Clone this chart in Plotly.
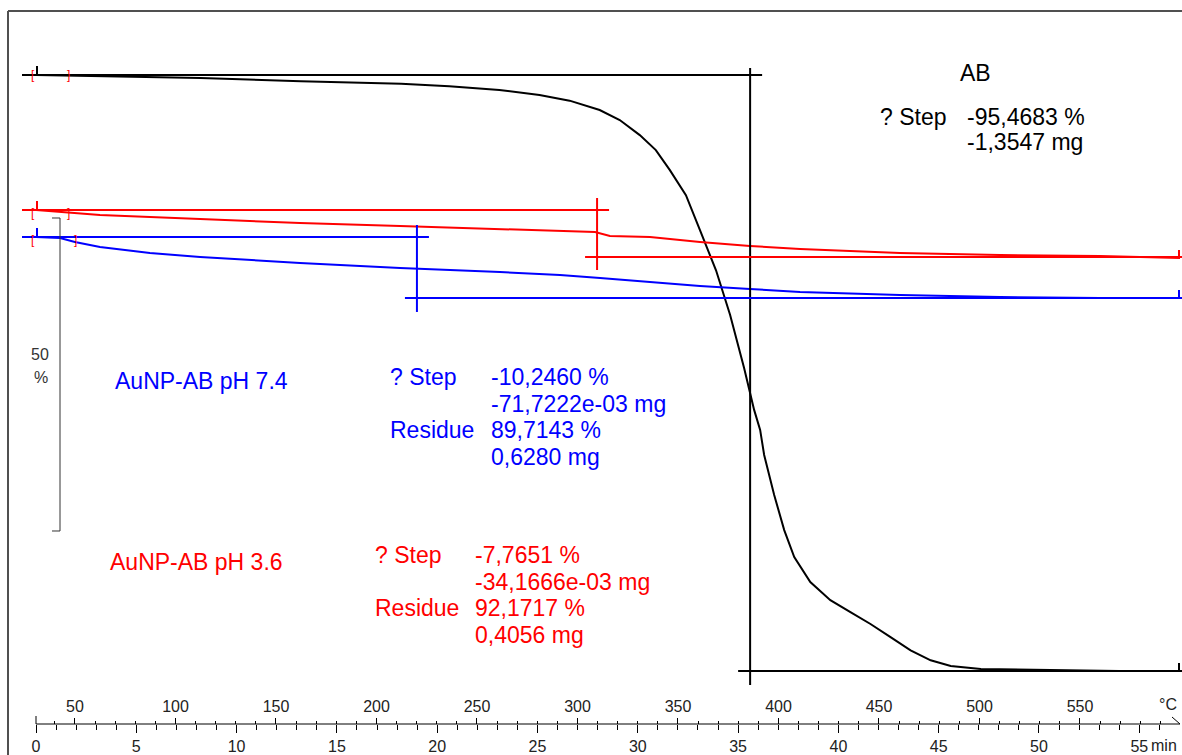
import plotly.graph_objects as go

W, H = 1182, 755

# ---------------- data ----------------
# AB (black)
ab_time = [0, 3.2, 8.2, 13.2, 18.2, 20.6, 23.1, 25.1, 26.6, 28.1, 29.1, 30.1, 30.9, 31.6,
           32.4, 33.1, 33.9, 34.6, 35.3, 35.8, 36.1, 36.3, 36.8, 37.3, 37.8, 38.6, 39.6,
           40.6, 41.6, 42.6, 43.6, 44.6, 45.6, 47.1, 50.5, 54.0, 57.0]
ab_mass = [100, 99.8, 99.5, 99.0, 98.6, 98.2, 97.6, 96.8, 95.9, 94.4, 92.8, 90.4, 88.0, 84.8,
           80.8, 75.2, 68.8, 61.7, 53.2, 46.5, 43.3, 39.3, 32.9, 27.3, 23.0, 19.0, 16.1,
           14.2, 12.3, 10.2, 8.1, 6.5, 5.6, 5.1, 4.95, 4.8, 4.8]

# AuNP-AB pH 3.6 (red)
red_time = [0, 1.2, 3.19, 8.18, 13.16, 18.15, 23.13, 27.87, 28.61, 30.61, 33.1, 35.59,
            38.09, 40.58, 43.07, 48.06, 53.04, 57.03]
red_mass = [100, 99.68, 99.20, 98.56, 97.92, 97.44, 96.96, 96.49, 95.85, 95.69, 94.89, 94.25,
            93.77, 93.45, 93.13, 92.81, 92.65, 92.33]

# AuNP-AB pH 7.4 (blue)
blue_time = [0, 1.2, 1.94, 3.19, 5.68, 8.18, 13.16, 18.15, 23.13, 26.12, 28.12, 30.61, 33.1,
             35.59, 38.09, 43.07, 48.06, 53.04, 57.03]
blue_mass = [100, 99.84, 99.2, 98.4, 97.44, 96.81, 95.85, 95.05, 94.41, 93.93, 93.45, 92.81,
             92.17, 91.69, 91.21, 90.73, 90.42, 90.26, 90.26]

# step evaluations: time of step (min), upper level, lower level (%)
step_time = {"ab": 35.6, "red": 27.97, "blue": 18.99}
step_top = {"ab": 100, "red": 100, "blue": 100}
step_bottom = {"ab": 4.79, "red": 92.49, "blue": 90.26}

# axis tick labels
time_ticks = [0, 5, 10, 15, 20, 25, 30, 35, 40, 45, 50, 55]
temp_ticks = [50, 100, 150, 200, 250, 300, 350, 400, 450, 500, 550]

# result texts
ab_text = {"name": "AB", "step_pct": "-95,4683 %", "step_mg": "-1,3547 mg"}
blue_text = {"name": "AuNP-AB pH 7.4", "step_pct": "-10,2460 %", "step_mg": "-71,7222e-03 mg",
             "res_pct": "89,7143 %", "res_mg": "0,6280 mg"}
red_text = {"name": "AuNP-AB pH 3.6", "step_pct": "-7,7651 %", "step_mg": "-34,1666e-03 mg",
            "res_pct": "92,1717 %", "res_mg": "0,4056 mg"}

# ---------------- layout / style constants ----------------
XR = [-1.795, 57.13]          # minutes across full width
YR = [-8.63, 111.98]          # percent across full height
TR = [12.69, 600.75]          # deg C across full width
PXM = W / (XR[1] - XR[0])     # px per minute
PXP = H / (YR[1] - YR[0])     # px per percent
offset = {"ab": 0.0, "red": 21.57, "blue": 25.88}   # vertical stacking of curves
col = {"ab": "#000000", "red": "#ff0000", "blue": "#0000ff"}
FONT = "Liberation Sans, Arial, sans-serif"


def px(x):
    return x / W


def py(y):
    return 1 - y / H


def xpx(x):   # pixel -> minutes
    return XR[0] + x / PXM


fig = go.Figure()

for key, tt, mm in [("ab", ab_time, ab_mass), ("red", red_time, red_mass), ("blue", blue_time, blue_mass)]:
    fig.add_trace(go.Scatter(x=tt, y=[m - offset[key] for m in mm], mode="lines",
                             line=dict(color=col[key], width=2), hoverinfo="skip",
                             showlegend=False))

# dummy trace so the temperature axis exists
fig.add_trace(go.Scatter(x=[temp_ticks[0]], y=[0], xaxis="x2", mode="markers",
                         marker=dict(opacity=0), hoverinfo="skip", showlegend=False))

shapes = []
ext = {"ab": (7, 14), "red": (12, 13), "blue": (12, 14)}
for key in ["ab", "red", "blue"]:
    ts = step_time[key]
    yt = step_top[key] - offset[key]
    yb = step_bottom[key] - offset[key]
    c = col[key]
    # top horizontal
    shapes.append(dict(type="line", xref="x", yref="y", x0=xpx(22), x1=ts + 12 / PXM,
                       y0=yt, y1=yt, line=dict(color=c, width=2)))
    # vertical
    shapes.append(dict(type="line", xref="x", yref="y", x0=ts, x1=ts,
                       y0=yt + ext[key][0] / PXP, y1=yb - ext[key][1] / PXP,
                       line=dict(color=c, width=2)))
    # bottom horizontal
    shapes.append(dict(type="line", xref="x", yref="y", x0=ts - 12 / PXM, x1=XR[1],
                       y0=yb, y1=yb, line=dict(color=c, width=2)))

# scale bar (50 %)
sb_x = xpx(60)
sb_top = 100 - (218 - 75) / PXP
sb_bot = sb_top - 50
shapes.append(dict(type="line", xref="x", yref="y", x0=sb_x, x1=sb_x, y0=sb_top, y1=sb_bot,
                   line=dict(color="#333333", width=1)))
for yy in (sb_top, sb_bot):
    shapes.append(dict(type="line", xref="x", yref="y", x0=xpx(52), x1=sb_x, y0=yy, y1=yy,
                       line=dict(color="#333333", width=1)))

# frame
shapes.append(dict(type="line", xref="paper", yref="paper", x0=px(8), x1=px(8), y0=py(11), y1=0,
                   line=dict(color="#505050", width=2)))
shapes.append(dict(type="line", xref="paper", yref="paper", x0=px(8), x1=1, y0=py(11), y1=py(11),
                   line=dict(color="#505050", width=2)))

# axis line with half arrow
AXY = py(724)
shapes.append(dict(type="line", xref="x", yref="paper", x0=0, x1=xpx(1180), y0=AXY, y1=AXY,
                   line=dict(color="black", width=1)))
shapes.append(dict(type="line", xref="paper", yref="paper", x0=px(1172), x1=px(1180),
                   y0=py(717), y1=py(724), line=dict(color="black", width=1)))
shapes.append(dict(type="line", xref="x", yref="paper", x0=0, x1=0, y0=py(716), y1=AXY,
                   line=dict(color="black", width=1)))

# small start / end flags on curves
for key, yline in [("ab", 75), ("red", 210), ("blue", 237)]:
    shapes.append(dict(type="line", xref="paper", yref="paper", x0=px(37), x1=px(37),
                       y0=py(yline - 9), y1=py(yline), line=dict(color=col[key], width=2)))
for key, yline in [("ab", 671), ("red", 258), ("blue", 298)]:
    shapes.append(dict(type="line", xref="paper", yref="paper", x0=px(1179), x1=px(1179),
                       y0=py(yline - 8), y1=py(yline), line=dict(color=col[key], width=2)))

fig.update_layout(shapes=shapes)

ann = []


def txt(s, x, y, color, size=23, anchor="left"):
    ann.append(dict(text=s, x=px(x), y=py(y), xref="paper", yref="paper", showarrow=False,
                    xanchor=anchor, yanchor="middle",
                    font=dict(family=FONT, size=size, color=color)))


txt(ab_text["name"], 975, 73, "black", anchor="center")
txt("? Step", 878, 117, "black")
txt(ab_text["step_pct"], 965, 117, "black")
txt(ab_text["step_mg"], 965, 142, "black")

txt(blue_text["name"], 113, 381, col["blue"])
txt("? Step", 388, 377, col["blue"])
txt(blue_text["step_pct"], 489, 377, col["blue"])
txt(blue_text["step_mg"], 489, 404, col["blue"])
txt("Residue", 388, 430, col["blue"])
txt(blue_text["res_pct"], 489, 430, col["blue"])
txt(blue_text["res_mg"], 489, 457, col["blue"])

txt(red_text["name"], 108, 562, col["red"])
txt("? Step", 373, 555, col["red"])
txt(red_text["step_pct"], 473, 555, col["red"])
txt(red_text["step_mg"], 473, 582, col["red"])
txt("Residue", 373, 608, col["red"])
txt(red_text["res_pct"], 473, 608, col["red"])
txt(red_text["res_mg"], 473, 635, col["red"])

txt("50", 40, 355, "#333333", size=16, anchor="center")
txt("%", 41, 377, "#333333", size=16, anchor="center")
txt("min", 1149, 745, "#222222", size=16)
txt("°C", 1157, 704, "#222222", size=16)

# range brackets
for yline, xr in [(75, 68), (213, 68), (240, 75)]:
    txt("[", 33, yline, col["red"], size=12, anchor="center")
    txt("]", xr, yline, col["red"], size=12, anchor="center")

fig.update_layout(annotations=ann)

minor_time = [v for v in range(1, 57) if v % 5 != 0]
minor_temp = [v for v in range(40, 600, 10) if v % 50 != 0]

fig.update_layout(
    template="none",
    width=W, height=H,
    margin=dict(l=0, r=0, t=0, b=0, pad=0, autoexpand=False),
    paper_bgcolor="white", plot_bgcolor="white",
    hovermode=False,
    xaxis=dict(range=XR, domain=[0, 1], anchor="free", position=AXY, side="bottom",
               automargin=False,
               showgrid=False, zeroline=False, showline=False,
               tickmode="array", tickvals=time_ticks, ticktext=[str(v) for v in time_ticks],
               ticks="outside", ticklen=8, tickwidth=1, tickcolor="black",
               ticklabelstandoff=0,
               minor=dict(tickmode="array", tickvals=minor_time, ticks="outside", ticklen=5,
                          tickwidth=1, tickcolor="black", showgrid=False),
               tickfont=dict(family=FONT, size=16, color="#222222")),
    xaxis2=dict(range=TR, overlaying="x", anchor="free", position=AXY, side="top",
                automargin=False,
                showgrid=False, zeroline=False, showline=False,
                tickmode="array", tickvals=temp_ticks, ticktext=[str(v) for v in temp_ticks],
                ticks="outside", ticklen=6, tickwidth=1, tickcolor="black",
                minor=dict(tickmode="array", tickvals=minor_temp, ticks="outside", ticklen=3,
                           tickwidth=1, tickcolor="black", showgrid=False),
                tickfont=dict(family=FONT, size=16, color="#222222")),
    yaxis=dict(range=YR, domain=[0, 1], visible=False, showgrid=False, zeroline=False,
               automargin=False),
)

fig.write_html("out.html")
